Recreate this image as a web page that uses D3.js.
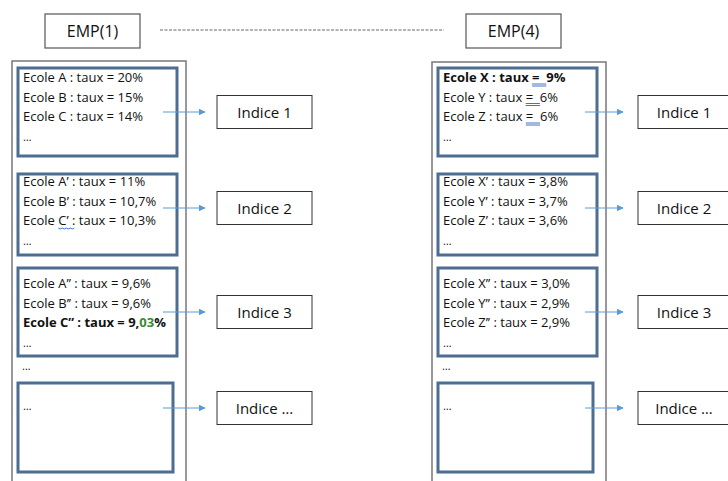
<!DOCTYPE html>
<html>
<head>
<meta charset="utf-8">
<script src="https://cdn.jsdelivr.net/npm/d3@7"></script>
<style>
  body { margin: 0; background: #fff; }
  text { font-family: "Open Sans", "Liberation Sans", Arial, sans-serif; fill: #111; white-space: pre; }
</style>
</head>
<body>
<div id="chart-area"></div>
<script>
// data
var empLabels = ["EMP(1)", "EMP(4)"];
var indiceLabels = ["Indice 1", "Indice 2", "Indice 3", "Indice \u2026"];
var ecolesEmp1 = [
    ["Ecole A : taux = 20%", "Ecole B : taux = 15%", "Ecole C : taux = 14%", "\u2026"],
    ["Ecole A\u2019 : taux = 11%", "Ecole B\u2019 : taux = 10,7%", "Ecole C\u2019 : taux = 10,3%", "\u2026"],
    ["Ecole A\u2019\u2019 : taux = 9,6%", "Ecole B\u2019\u2019 : taux = 9,6%", "Ecole C\u2019\u2019 : taux = 9,03%", "\u2026"],
    ["\u2026"]
];
var ecolesEmp4 = [
    ["Ecole X : taux =  9%", "Ecole Y : taux =  6%", "Ecole Z : taux =  6%", "\u2026"],
    ["Ecole X\u2019 : taux = 3,8%", "Ecole Y\u2019 : taux = 3,7%", "Ecole Z\u2019 : taux = 3,6%", "\u2026"],
    ["Ecole X\u2019\u2019 : taux = 3,0%", "Ecole Y\u2019\u2019 : taux = 2,9%", "Ecole Z\u2019\u2019 : taux = 2,9%", "\u2026"],
    ["\u2026"]
];
// [column, group, row] of the lines written in bold
var boldRows = [[0, 2, 2], [1, 0, 0]];

var width = 728, height = 481;

var svg = d3.select("#chart-area")
    .append("svg")
    .attr("width", width)
    .attr("height", height);

// Scales
var colX = d3.scaleOrdinal().domain([0, 1]).range([12, 432]);
var groupTop = d3.scaleOrdinal().domain(d3.range(4)).range([68, 174, 268, 383]);
var groupH = d3.scaleOrdinal().domain(d3.range(4)).range([88, 81, 88, 89]);
var firstLine = d3.scaleOrdinal().domain(d3.range(4)).range([14, 12, 20, 27]);
var indiceY = d3.scaleOrdinal().domain(d3.range(4)).range([112, 208, 312, 408]);
var lineStep = 19.5;

// arrow head
svg.append("defs").append("marker")
    .attr("id", "head")
    .attr("viewBox", "0 0 10 10")
    .attr("refX", 9).attr("refY", 5)
    .attr("markerWidth", 7).attr("markerHeight", 7)
    .attr("markerUnits", "userSpaceOnUse")
    .attr("orient", "auto")
    .append("path")
    .attr("d", "M0,0L10,5L0,10z")
    .attr("fill", "#5b9bd5");

// EMP boxes
var empX = d3.scaleOrdinal().domain([0, 1]).range([45, 466]);
var emp = svg.selectAll(".emp").data(empLabels).enter().append("g")
    .attr("class", "emp");
emp.append("rect")
    .attr("x", function(d, i) { return empX(i); })
    .attr("y", 14).attr("width", 95).attr("height", 34)
    .attr("fill", "#fff").attr("stroke", "#555").attr("stroke-width", 1.2);
emp.append("text")
    .attr("x", function(d, i) { return empX(i) + 47.5; })
    .attr("y", 36.5)
    .attr("text-anchor", "middle")
    .attr("font-size", "16px")
    .text(function(d) { return d; });

// dotted line between EMP(1) and EMP(4)
svg.append("line")
    .attr("x1", 160).attr("x2", 444)
    .attr("y1", 30).attr("y2", 30)
    .attr("stroke", "#666").attr("stroke-width", 1)
    .attr("stroke-dasharray", "3,1.5");

var columns = [ecolesEmp1, ecolesEmp4];

columns.forEach(function(groups, c) {
    var x0 = colX(c);
    var col = svg.append("g").attr("class", "col");

    // outer frame
    col.append("rect")
        .attr("x", x0).attr("y", c === 0 ? 61 : 62)
        .attr("width", 174).attr("height", 440)
        .attr("fill", "none").attr("stroke", "#777").attr("stroke-width", 1.5);

    // "..." between group 3 and 4
    col.append("text")
        .attr("x", x0 + 10).attr("y", 370)
        .attr("font-size", "11px")
        .text("\u2026");

    var grp = col.selectAll(".grp").data(groups).enter().append("g")
        .attr("class", "grp");

    grp.append("rect")
        .attr("x", x0 + 6)
        .attr("y", function(d, i) { return groupTop(i); })
        .attr("width", function(d, i) { return i === 3 ? 155 : 159; })
        .attr("height", function(d, i) { return groupH(i); })
        .attr("fill", "#fff")
        .attr("stroke", "#4d6d91").attr("stroke-width", 3);

    grp.each(function(rows, gi) {
        var g = d3.select(this);
        rows.forEach(function(r, ri) {
            var isBold = boldRows.some(function(b) { return b[0] === c && b[1] === gi && b[2] === ri; });
            var t = g.append("text")
                .attr("x", x0 + 11)
                .attr("y", groupTop(gi) + firstLine(gi) + ri * lineStep)
                .attr("font-size", r === "\u2026" ? "11px" : "13px")
                .attr("font-weight", isBold ? "bold" : null);
            if (c === 0 && gi === 2 && ri === 2) {
                // the "03" is highlighted green in the source
                t.append("tspan").text("Ecole C\u2019\u2019 : taux = 9,");
                t.append("tspan").style("fill", "#3a8a2e").text("03");
                t.append("tspan").text("%");
            } else {
                t.text(r);
            }
            var node = t.node();
            // spell-check style underlines
            if (c === 0 && gi === 1 && ri === 2) {
                var s = node.getSubStringLength(0, 6), w = node.getSubStringLength(6, 4);
                var yy = groupTop(gi) + firstLine(gi) + ri * lineStep + 3;
                g.append("path")
                    .attr("d", d3.range(0, w, 2).map(function(k, j) {
                        return (j ? "L" : "M") + (x0 + 11 + s + k) + "," + (yy + (j % 2 ? 1 : 0));
                    }).join(""))
                    .attr("fill", "none").attr("stroke", "#4472c4").attr("stroke-width", 1);
            }
            if (c === 1 && gi === 0 && ri < 3) {
                var idx = r.indexOf("=");
                var s2 = node.getSubStringLength(0, idx), w2 = node.getSubStringLength(idx, 3);
                var y2 = groupTop(gi) + firstLine(gi) + ri * lineStep + 2;
                [0, 2].forEach(function(o) {
                    g.append("line")
                        .attr("x1", x0 + 11 + s2).attr("x2", x0 + 11 + s2 + w2)
                        .attr("y1", y2 + o).attr("y2", y2 + o)
                        .attr("stroke", "#4472c4").attr("stroke-width", 1);
                });
            }
        });
    });

    // arrows and indice boxes
    var arrowX = c === 0 ? [163, 205] : [585, 623];
    var boxX = c === 0 ? 217 : 638;
    var ind = col.selectAll(".ind").data(indiceLabels).enter().append("g")
        .attr("class", "ind");
    ind.append("line")
        .attr("x1", arrowX[0]).attr("x2", arrowX[1])
        .attr("y1", function(d, i) { return indiceY(i); })
        .attr("y2", function(d, i) { return indiceY(i); })
        .attr("stroke", "#5b9bd5").attr("stroke-width", 1)
        .attr("marker-end", "url(#head)");
    ind.append("rect")
        .attr("x", boxX)
        .attr("y", function(d, i) { return indiceY(i) - 16.5; })
        .attr("width", c === 0 ? 95 : 92).attr("height", 33)
        .attr("fill", "#fff").attr("stroke", "#333").attr("stroke-width", 1);
    ind.append("text")
        .attr("x", boxX + (c === 0 ? 47.5 : 46))
        .attr("y", function(d, i) { return indiceY(i) + 5.5; })
        .attr("text-anchor", "middle")
        .attr("font-size", "15px")
        .text(function(d) { return d; });
});
</script>
</body>
</html>
